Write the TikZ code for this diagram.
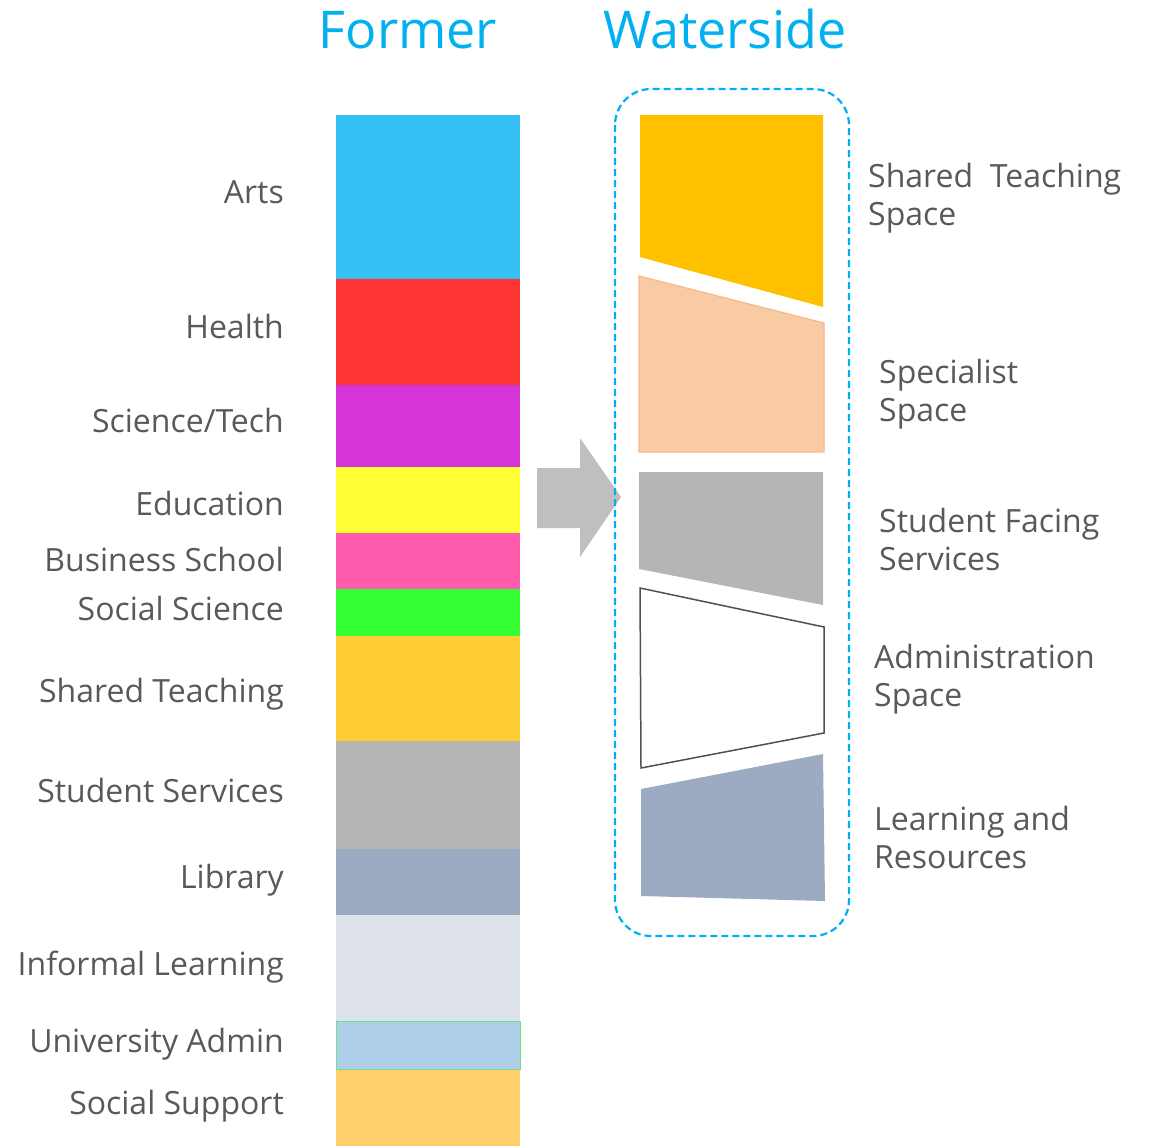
\documentclass[tikz,border=0pt]{standalone}
\usepackage{fontspec}
\setmainfont{Open Sans}
\definecolor{titleblue}{HTML}{00B0F0}
\definecolor{labelgray}{HTML}{595959}
\definecolor{cArts}{HTML}{35C0F3}
\definecolor{cHealth}{HTML}{FF3434}
\definecolor{cSci}{HTML}{D434D8}
\definecolor{cEdu}{HTML}{FFFF34}
\definecolor{cBus}{HTML}{FF5CAD}
\definecolor{cSoc}{HTML}{34FF34}
\definecolor{cShared}{HTML}{FFCC34}
\definecolor{cStud}{HTML}{B5B5B5}
\definecolor{cLib}{HTML}{9DABC2}
\definecolor{cInf}{HTML}{DEE2EA}
\definecolor{cAdmin}{HTML}{AFCFE9}
\definecolor{cSupp}{HTML}{FFCF6A}
\definecolor{wGold}{HTML}{FFC000}
\definecolor{wPeach}{HTML}{F9CBA5}
\definecolor{wPeachB}{HTML}{F7B98A}
\definecolor{wGray}{HTML}{B5B5B5}
\definecolor{wBlue}{HTML}{9DABC2}
\definecolor{arrowgray}{HTML}{BFBFBF}
\begin{document}
\begin{tikzpicture}[x=1pt,y=-1pt,
  lbl/.style={text=labelgray,font=\fontsize{32}{38}\selectfont,inner sep=0pt},
  llbl/.style={lbl,anchor=base east},
  rlbl/.style={lbl,anchor=base west,align=left},
  ttl/.style={text=titleblue,font=\fontsize{52}{56}\selectfont,inner sep=0pt,anchor=base}]
\useasboundingbox (0,0) rectangle (1150,1146);
% titles
\node[ttl] (tFormer) at (408,48.5) {Former};
\node[ttl] (tWater) at (725,48.5) {Waterside};
% left bar
\foreach \ya/\yb/\c in {115/279/cArts,279/385/cHealth,385/467/cSci,467/533/cEdu,533/589/cBus,589/636/cSoc,636/741/cShared,741/849/cStud,849/915/cLib,915/1021/cInf,1069/1146/cSupp}{
  \fill[\c] (336,\ya) rectangle (520,\yb);
}
\fill[cAdmin,draw=green!40!cAdmin,line width=0.8] (336,1021) rectangle (520,1069);
% left labels
\node[llbl] (lArts) at (284,203) {Arts};
\node[llbl] (lHealth) at (284,338) {Health};
\node[llbl] (lSci) at (284,432) {Science/Tech};
\node[llbl] (lEdu) at (284,515) {Education};
\node[llbl] (lBus) at (284,571) {Business School};
\node[llbl] (lSoc) at (284,620) {Social Science};
\node[llbl] (lShared) at (284,702) {Shared Teaching};
\node[llbl] (lStud) at (284,802) {Student Services};
\node[llbl] (lLib) at (284,888) {Library};
\node[llbl] (lInf) at (284,975) {Informal Learning};
\node[llbl] (lAdm) at (284,1052) {University Admin};
\node[llbl] (lSupp) at (284,1114) {Social Support};
% arrow
\fill[arrowgray] (537,468) -- (580,468) -- (580,438) -- (621,497) -- (580,557) -- (580,528) -- (537,528) -- cycle;
% waterside container
\draw[titleblue,line width=2.2,dash pattern=on 7pt off 4pt,rounded corners=36] (615,89) rectangle (849,936);
% waterside shapes
\fill[wGold] (640,115) -- (823,115) -- (823,307) -- (640,257) -- cycle;
\filldraw[fill=wPeach,draw=wPeachB,line width=1.2] (639,276) -- (824,323) -- (824,452) -- (639,452) -- cycle;
\fill[wGray] (639,472) -- (823,472) -- (823,605) -- (639,569) -- cycle;
\draw[labelgray!90!black,line width=1.5] (640,588) -- (824,627) -- (824,733) -- (641,768) -- cycle;
\fill[wBlue] (641,789) -- (823,754) -- (825,901) -- (641,896) -- cycle;
% right labels (anchor = baseline of last line)
\node[rlbl] (rShared) at (868,225) {Shared\ \ Teaching\\Space};
\node[rlbl] (rSpec) at (879,421) {Specialist\\Space};
\node[rlbl] (rStud) at (879,570) {Student Facing\\Services};
\node[rlbl] (rAdm) at (874,706) {Administration\\Space};
\node[rlbl] (rLearn) at (874,868) {Learning and\\Resources};
\end{tikzpicture}
\end{document}
